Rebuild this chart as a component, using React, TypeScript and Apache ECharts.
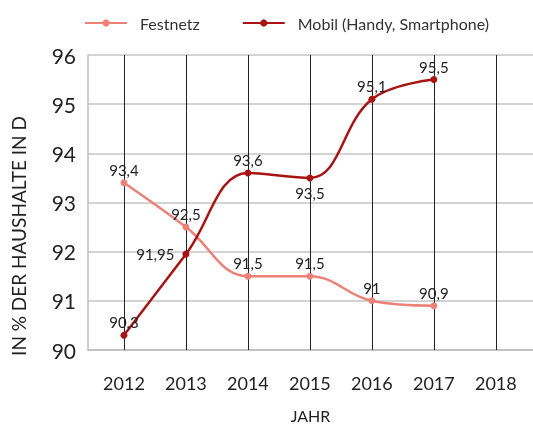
import React, { useEffect, useRef } from "react";
import * as echarts from "echarts";

const years = [2012, 2013, 2014, 2015, 2016, 2017, 2018];
const festnetzYears = [2012, 2013, 2014, 2015, 2016, 2017];
const festnetz = [93.4, 92.5, 91.5, 91.5, 91, 90.9];
const mobilYears = [2012, 2013, 2014, 2015, 2016, 2017];
const mobil = [90.3, 91.95, 93.6, 93.5, 95.1, 95.5];
const mobilLabelPos = ["top", "left", "top", "bottom", "top", "top"];
const yTicks = [90, 91, 92, 93, 94, 95, 96];

const FONT = "Lato, 'Open Sans', sans-serif";

export default function App() {
  const ref = useRef<HTMLDivElement>(null);
  useEffect(() => {
    if (!ref.current) return;
    const chart = echarts.init(ref.current, undefined, { renderer: "svg" });
    const fmt = (v: number) => String(v).replace(".", ",");
    chart.setOption({
      animation: false,
      textStyle: { fontFamily: FONT },
      legend: {
        top: 10,
        left: 79,
        itemWidth: 42,
        itemHeight: 9,
        itemGap: 42,
        textStyle: { fontSize: 16, color: "#333", fontFamily: FONT, padding: [0, 0, 0, 8] },
        data: ["Festnetz", "Mobil (Handy, Smartphone)"],
      },
      grid: { left: 88, right: 0, top: 55, bottom: 75, outerBoundsMode: "none", containLabel: false },
      xAxis: {
        type: "value",
        min: 2011.42,
        max: 2018.6,
        name: "JAHR",
        nameLocation: "middle",
        nameGap: 57,
        nameTextStyle: { fontSize: 16, color: "#222", fontFamily: FONT },
        axisLine: { show: true, lineStyle: { color: "#bdbdbd", width: 1.5 } },
        axisTick: {
          show: true,
          inside: true,
          length: 295,
          customValues: years,
          lineStyle: { color: "#222", width: 1 },
        },
        axisLabel: {
          customValues: years,
          fontSize: 18,
          color: "#222",
          margin: 24,
          fontFamily: FONT,
          formatter: (v: number) => String(v),
        },
        splitLine: { show: false },
      },
      yAxis: {
        type: "value",
        min: 90,
        max: 96,
        interval: 1,
        axisLine: { show: true, lineStyle: { color: "#bdbdbd", width: 1.5 } },
        axisTick: { show: false },
        axisLabel: {
          fontSize: 21,
          color: "#222",
          margin: 12,
          fontFamily: FONT,
          formatter: (v: number) => (yTicks.includes(v) ? String(v) : ""),
        },
        splitLine: { show: true, lineStyle: { color: "#c4c4c4", width: 1.5 } },
      },
      graphic: [
        {
          type: "text",
          x: 18,
          y: 236,
          rotation: Math.PI / 2,
          style: {
            text: "IN % DER HAUSHALTE IN D",
            fontSize: 19,
            fill: "#222",
            fontFamily: FONT,
            align: "center",
            verticalAlign: "middle",
          },
        },
      ],
      series: [
        {
          name: "Festnetz",
          type: "line",
          smooth: 0.4,
          symbol: "circle",
          symbolSize: 7,
          itemStyle: { color: "#ec8277" },
          lineStyle: { color: "#ec8277", width: 2.5 },
          data: festnetzYears.map((y, i) => [y, festnetz[i]]),
          label: {
            show: true,
            position: "top",
            distance: 2,
            fontSize: 15,
            color: "#222",
            fontFamily: FONT,
            formatter: (p: any) => fmt(p.value[1]),
          },
        },
        {
          name: "Mobil (Handy, Smartphone)",
          type: "line",
          smooth: 0.4,
          symbol: "circle",
          symbolSize: 7,
          itemStyle: { color: "#a81414" },
          lineStyle: { color: "#a81414", width: 2.5 },
          data: mobilYears.map((y, i) => ({
            value: [y, mobil[i]],
            label: {
              position: mobilLabelPos[i],
              distance: mobilLabelPos[i] === "left" ? 8 : mobilLabelPos[i] === "bottom" ? 4 : 2,
            },
          })),
          label: {
            show: true,
            position: "top",
            distance: 2,
            fontSize: 15,
            color: "#222",
            fontFamily: FONT,
            formatter: (p: any) => fmt(p.value[1]),
          },
        },
      ],
    });
    return () => chart.dispose();
  }, []);
  return (
    <div
      ref={ref}
      style={{ position: "fixed", left: 0, top: 0, width: 533, height: 425 }}
    />
  );
}
